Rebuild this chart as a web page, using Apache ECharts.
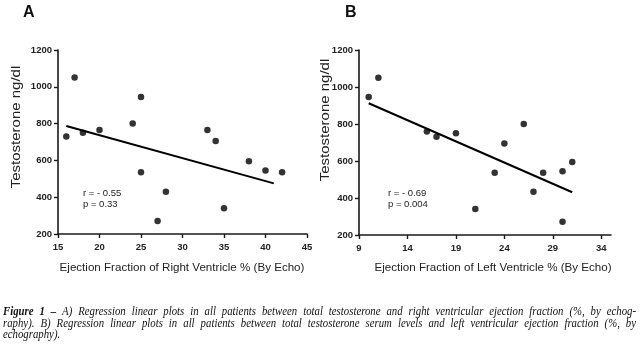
<!DOCTYPE html>
<html><head><meta charset="utf-8">
<script src="https://cdn.jsdelivr.net/npm/echarts@6/dist/echarts.min.js"></script>
<style>html,body{margin:0;padding:0;background:#fff}#c{width:640px;height:348px}</style>
</head><body><div id="c"></div>
<script>
// Panel A: right ventricle EF (%) vs testosterone (ng/dl)
const rvEF = [16, 17, 18, 20, 24, 25, 25, 27, 28, 33, 34, 35, 38, 40, 42];
const rvTesto = [730, 1050, 750, 765, 800, 945, 535, 270, 430, 765, 705, 340, 595, 545, 535];
const rvFitX = [16, 41];
const rvFitY = [787, 475];
// Panel B: left ventricle EF (%) vs testosterone (ng/dl)
const lvEF = [10, 11, 16, 17, 19, 21, 23, 24, 26, 27, 28, 30, 30, 31];
const lvTesto = [946, 1050, 760, 731, 750, 341, 537, 694, 800, 434, 537, 544, 272, 595];
const lvFitX = [10, 31];
const lvFitY = [912, 431];
const xTicksA = [15, 20, 25, 30, 35, 40, 45];
const xTicksB = [9, 14, 19, 24, 29, 34];
const yTicks = [200, 400, 600, 800, 1000, 1200];
const statsA = ['r = - 0.55', 'p = 0.33'];
const statsB = ['r = - 0.69', 'p = 0.004'];
const xTitleA = 'Ejection Fraction of Right Ventricle % (By Echo)';
const xTitleB = 'Ejection Fraction of Left Ventricle % (By Echo)';
const yTitle = 'Testosterone ng/dl';
const captionBold = 'Figure 1 \u2013';
const captionLines = [
  'A) Regression linear plots in all patients between total testosterone and right ventricular ejection fraction (%, by echog-',
  'raphy). B) Regression linear plots in all patients between total testosterone serum levels and left ventricular ejection fraction (%, by',
  'echography).'
];

const ink = '#1a1a1a';
const font = 'Liberation Sans, Arial, sans-serif';
const serif = 'Liberation Serif, Times New Roman, serif';
function xAx(idx, min, max, ticks) {
  return {
    gridIndex: idx, type: 'value', min: min, max: max,
    splitLine: {show: false},
    axisLine: {onZero: false, lineStyle: {color: ink, width: 1.6}},
    axisTick: {show: true, length: 4, lineStyle: {color: ink, width: 1.4}, customValues: ticks},
    axisLabel: {color: '#222', fontSize: 9.5, fontWeight: 'bold', fontFamily: font, margin: 8, customValues: ticks}
  };
}
function yAx(idx) {
  return {
    gridIndex: idx, type: 'value', min: 200, max: 1200, interval: 200,
    splitLine: {show: false},
    axisLine: {show: true, onZero: false, lineStyle: {color: ink, width: 1.6}},
    axisTick: {show: true, length: 4, lineStyle: {color: ink, width: 1.4}, customValues: yTicks},
    axisLabel: {color: '#222', fontSize: 9.5, fontWeight: 'bold', fontFamily: font, margin: 6,
      customValues: yTicks, formatter: v => String(v)}
  };
}
const zip = (a, b) => a.map((v, i) => [v, b[i]]);
function txt(x, y, s, o, extra) {
  return Object.assign({type: 'text', x: x, y: y, style: Object.assign({text: s, fill: '#222', font: '9.5px ' + font}, o || {})}, extra || {});
}

const graphics = [
  txt(23, 5, 'A', {font: 'bold 16px ' + font, fill: '#111'}),
  txt(345, 5, 'B', {font: 'bold 16px ' + font, fill: '#111'}),
  txt(17, 127, yTitle, {font: '12px ' + font, align: 'center', verticalAlign: 'middle'}, {rotation: Math.PI / 2, scaleX: 1.25}),
  txt(326, 120, yTitle, {font: '12px ' + font, align: 'center', verticalAlign: 'middle'}, {rotation: Math.PI / 2, scaleX: 1.25}),
  txt(182, 268, xTitleA, {font: '11.6px ' + font, align: 'center', verticalAlign: 'middle'}),
  txt(493, 268, xTitleB, {font: '11.6px ' + font, align: 'center', verticalAlign: 'middle'}),
  txt(83, 193, statsA[0], {verticalAlign: 'middle'}),
  txt(83, 204, statsA[1], {verticalAlign: 'middle'}),
  txt(388, 193, statsB[0], {verticalAlign: 'middle'}),
  txt(388, 204, statsB[1], {verticalAlign: 'middle'})
];

// Caption: justified lines built word by word
const capFontN = 'italic 11px ' + serif;
const capFontB = 'italic bold 11px ' + serif;
const capSX = 0.98, capSY = 1.06;
const ctx = document.createElement('canvas').getContext('2d');
function measure(s, f) { ctx.font = f; return ctx.measureText(s).width * capSX; }
const capLeft = 3, capRight = 636, capY = [312, 323.5, 335];
captionLines.forEach((line, i) => {
  const words = line.split(' ').map(w => ({t: w, f: capFontN}));
  if (i === 0) {
    captionBold.split(' ').reverse().forEach(w => words.unshift({t: w, f: capFontB}));
  }
  const widths = words.map(w => measure(w.t, w.f));
  const total = widths.reduce((a, b) => a + b, 0);
  const justify = i < captionLines.length - 1;
  const gap = justify ? (capRight - capLeft - total) / (words.length - 1) : measure(' ', capFontN);
  let x = capLeft;
  words.forEach((w, k) => {
    graphics.push({type: 'text', x: x, y: capY[i], scaleX: capSX, scaleY: capSY,
      style: {text: w.t, font: w.f, fill: '#111', verticalAlign: 'middle'}});
    x += widths[k] + gap;
  });
});

const chart = echarts.init(document.getElementById('c'), null, {renderer: 'canvas'});
chart.setOption({
  animation: false,
  backgroundColor: '#fff',
  grid: [
    {left: 58, top: 50, width: 249, height: 184},
    {left: 359, top: 50, width: 252, height: 185}
  ],
  xAxis: [xAx(0, 15, 45, xTicksA), xAx(1, 9, 35, xTicksB)],
  yAxis: [yAx(0), yAx(1)],
  series: [
    {type: 'scatter', xAxisIndex: 0, yAxisIndex: 0, data: zip(rvEF, rvTesto), symbolSize: 6.5, itemStyle: {color: '#000'}},
    {type: 'line', xAxisIndex: 0, yAxisIndex: 0, data: zip(rvFitX, rvFitY), symbol: 'none', lineStyle: {color: '#000', width: 2}},
    {type: 'scatter', xAxisIndex: 1, yAxisIndex: 1, data: zip(lvEF, lvTesto), symbolSize: 6.5, itemStyle: {color: '#000'}},
    {type: 'line', xAxisIndex: 1, yAxisIndex: 1, data: zip(lvFitX, lvFitY), symbol: 'none', lineStyle: {color: '#000', width: 2}}
  ],
  graphic: graphics
});
</script></body></html>
